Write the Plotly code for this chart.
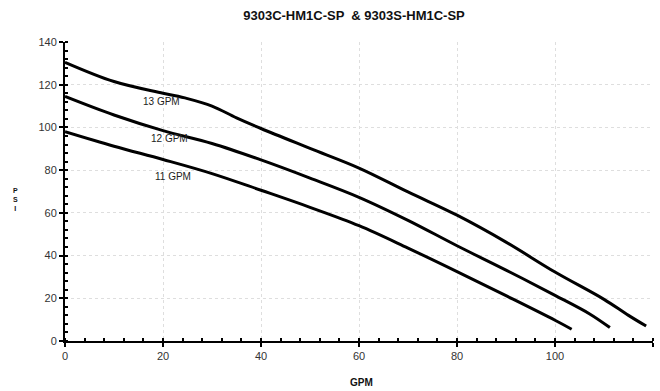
import plotly.graph_objects as go

# Data
x_13 = [0, 10, 20, 25, 30, 35, 40, 50, 60, 70, 80, 90, 100, 110, 115, 118.6]
y_13 = [130.5, 121.5, 116, 113.5, 110, 104.5, 99.5, 90.2, 81, 69.8, 58.9, 46.3, 32.3, 19.5, 12, 7.0]

x_12 = [0, 10, 20, 30, 40, 50, 60, 70, 80, 90, 100, 107, 111.2]
y_12 = [114.5, 105.8, 98.5, 92.5, 84.8, 76.3, 67.3, 56.5, 44.6, 33.2, 21.4, 12.8, 6.3]

x_11 = [0, 10, 20, 30, 40, 50, 60, 70, 80, 90, 100, 103.4]
y_11 = [98, 91.2, 85, 78.4, 70.6, 62.6, 54, 43.5, 32.5, 21.2, 9.7, 5.5]

curve_labels = ["13 GPM", "12 GPM", "11 GPM"]
label_x = [19.7, 21.4, 22.1]
label_y = [112, 94.9, 76.9]

title_text = "9303C-HM1C-SP  & 9303S-HM1C-SP"
x_title = "GPM"
y_title = "P<br>S<br>I"

FONT = "Liberation Sans, Arial, sans-serif"

fig = go.Figure()
for xs, ys in [(x_13, y_13), (x_12, y_12), (x_11, y_11)]:
    fig.add_trace(go.Scatter(x=xs, y=ys, mode="lines",
                             line=dict(color="black", width=3, shape="spline", smoothing=1.0),
                             showlegend=False, hoverinfo="skip"))

for t, lx, ly in zip(curve_labels, label_x, label_y):
    fig.add_annotation(x=lx, y=ly, text=t, showarrow=False, xref="x", yref="y",
                       font=dict(family=FONT, size=10, color="#222"))

fig.add_annotation(x=(361 - 65) / 588, y=(340.7 - 382) / 298.7, xref="paper", yref="paper",
                   text="<b>" + x_title + "</b>", showarrow=False, yanchor="middle",
                   font=dict(family=FONT, size=10, color="#111"))
fig.add_annotation(x=(11 - 65) / 588, y=(340.7 - 199) / 298.7, xref="paper", yref="paper",
                   text="<b>" + y_title + "</b>", showarrow=False, yanchor="middle",
                   font=dict(family=FONT, size=7, color="#111"))

axis_common = dict(
    showline=True, linecolor="black", linewidth=2,
    ticks="outside", ticklen=4, tickwidth=2, tickcolor="black",
    showgrid=True, gridcolor="#dedede", griddash="dot", gridwidth=1,
    zeroline=False, dtick=20,
    tickfont=dict(family=FONT, size=11, color="#333"),
    minor=dict(ticks="inside", ticklen=3, tickwidth=1.5, tickcolor="black", dtick=4, showgrid=False),
)

fig.update_xaxes(range=[0, 120], **axis_common)
fig.update_yaxes(range=[0, 140], **axis_common)

fig.update_layout(
    width=660, height=391,
    margin=dict(l=65, r=7, t=42, b=50),
    paper_bgcolor="white", plot_bgcolor="white",
    title=dict(text="<b>" + title_text + "</b>", x=354 / 660, xanchor="center",
               y=1 - 15 / 391, yanchor="middle",
               font=dict(family=FONT, size=13, color="#111")),
)

fig.write_html("out.html")
